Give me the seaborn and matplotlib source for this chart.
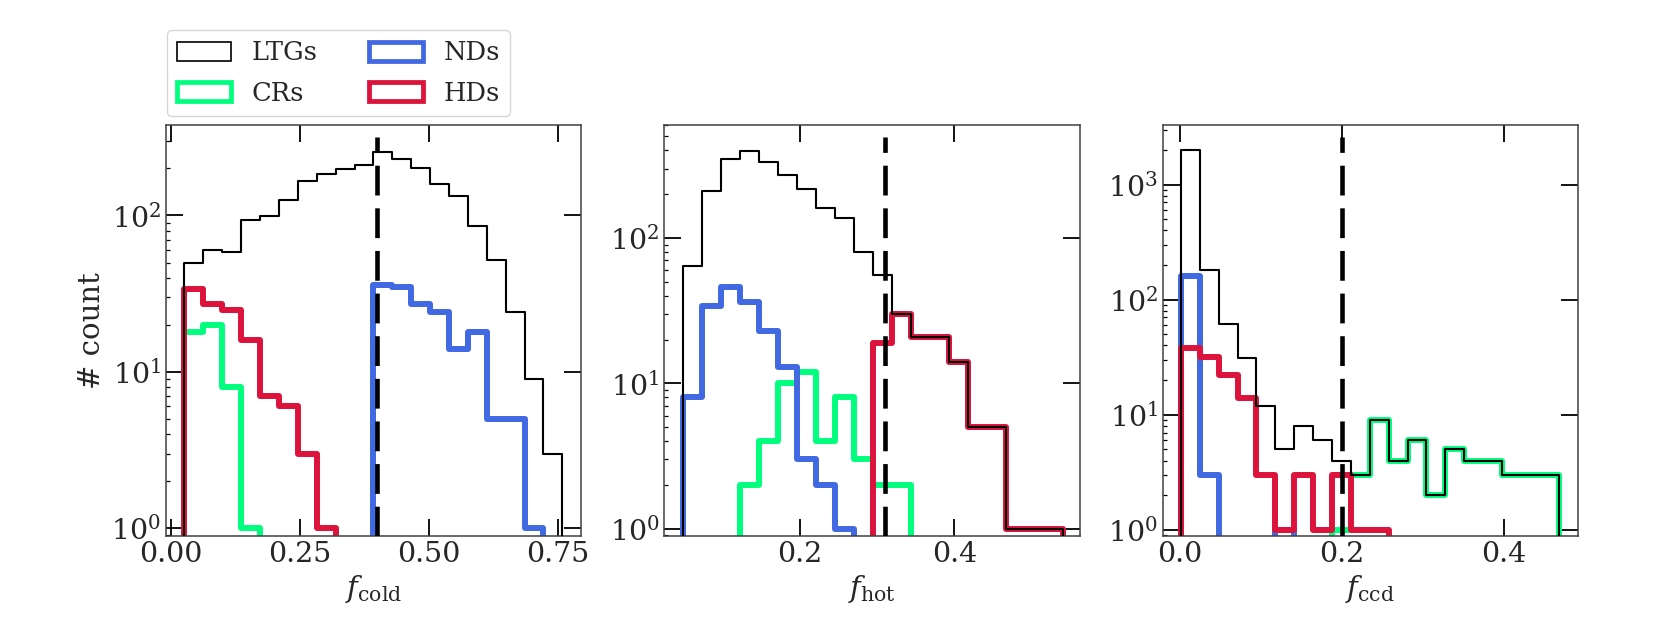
import numpy as np
import pandas as pd
import matplotlib.pyplot as plt
import matplotlib.ticker as mticker
from matplotlib.patches import Patch
import seaborn as sns

FIGURE_DPI = 100
N_BINS = 20

COLORS = {
    "LTGs": "black",
    "CRs": "springgreen",
    "NDs": "royalblue",
    "HDs": "crimson",
}
LABEL_ORDER = ["LTGs", "CRs", "NDs", "HDs"]

# bin range of each panel (20 equal bins)
COLD_RANGE = (0.026, 0.759)
HOT_RANGE = (0.049, 0.541)
CCD_RANGE = (0.001, 0.468)

# counts per bin
COLD_LTG = [50, 60, 58, 94, 99, 126, 165, 185, 197, 211, 256, 230, 202, 158, 134, 86, 52, 24, 9, 3]
COLD_CR = [18, 20, 8, 1, 0, 0, 0, 0, 0, 0, 0, 0, 0, 0, 0, 0, 0, 0, 0, 0]
COLD_ND = [0, 0, 0, 0, 0, 0, 0, 0, 0, 0, 36, 35, 27, 24, 14, 18, 5, 5, 1, 0]
COLD_HD = [34, 27, 25, 16, 7, 6, 3, 1, 0, 0, 0, 0, 0, 0, 0, 0, 0, 0, 0, 0]

HOT_LTG = [64, 209, 350, 395, 332, 269, 216, 160, 138, 80, 56, 30, 21, 21, 14, 5, 5, 1, 1, 1]
HOT_CR = [0, 0, 0, 2, 4, 10, 12, 4, 8, 3, 2, 2, 0, 0, 0, 0, 0, 0, 0, 0]
HOT_ND = [8, 34, 46, 36, 23, 13, 3, 2, 1, 0, 0, 0, 0, 0, 0, 0, 0, 0, 0, 0]
HOT_HD = [0, 0, 0, 0, 0, 0, 0, 0, 0, 0, 19, 30, 21, 21, 14, 5, 5, 1, 1, 1]

CCD_LTG = [2000, 180, 62, 31, 12, 5, 8, 6, 4, 3, 9, 4, 6, 2, 5, 4, 4, 3, 3, 3]
CCD_CR = [0, 0, 0, 0, 0, 0, 0, 0, 1, 3, 9, 4, 6, 2, 5, 4, 4, 3, 3, 3]
CCD_ND = [160, 3, 0, 0, 0, 1, 0, 0, 0, 0, 0, 0, 0, 0, 0, 0, 0, 0, 0, 0]
CCD_HD = [38, 32, 22, 14, 3, 1, 3, 1, 3, 1, 1, 0, 0, 0, 0, 0, 0, 0, 0, 0]

PANELS = [
    {
        "xlabel": r"$f_{\rm cold}$", "range": COLD_RANGE, "cut": 0.40,
        "counts": {"LTGs": COLD_LTG, "CRs": COLD_CR, "NDs": COLD_ND, "HDs": COLD_HD},
        "xlim": (-0.0097, 0.796), "ylim": (0.894, 381), "xstep": 0.25,
    },
    {
        "xlabel": r"$f_{\rm hot}$", "range": HOT_RANGE, "cut": 0.31,
        "counts": {"LTGs": HOT_LTG, "CRs": HOT_CR, "NDs": HOT_ND, "HDs": HOT_HD},
        "xlim": (0.025, 0.562), "ylim": (0.895, 602), "xstep": 0.2,
    },
    {
        "xlabel": r"$f_{\rm ccd}$", "range": CCD_RANGE, "cut": 0.20,
        "counts": {"LTGs": CCD_LTG, "CRs": CCD_CR, "NDs": CCD_ND, "HDs": CCD_HD},
        "xlim": (-0.0214, 0.4918), "ylim": (0.887, 3320), "xstep": 0.2,
    },
]

LINE_WIDTHS = {"LTGs": 1.5, "CRs": 4.3, "NDs": 4.3, "HDs": 4.3}


def padded_bins(lo, hi, counts):
    # one empty bin on each side so the step outline drops to the baseline
    edges = np.linspace(lo, hi, N_BINS + 1)
    width = edges[1] - edges[0]
    edges = np.concatenate([[lo - width], edges, [hi + width]])
    df = pd.DataFrame({
        "center": 0.5 * (edges[:-1] + edges[1:]),
        "count": np.concatenate([[0], counts, [0]]).astype(float),
    })
    return [float(e) for e in edges], df


def draw_panel(ax, panel):
    lo, hi = panel["range"]
    # colored populations first, LTGs on top
    for name in ["CRs", "NDs", "HDs", "LTGs"]:
        edges, df = padded_bins(lo, hi, panel["counts"][name])
        sns.histplot(data=df, x="center", weights="count", bins=edges, element="step",
                     fill=False, color=COLORS[name], linewidth=LINE_WIDTHS[name],
                     ax=ax, zorder=3 if name == "LTGs" else 2)
    ax.axvline(panel["cut"], ymin=0, ymax=0.97, color="black", lw=3.3,
               linestyle=(0, (6.5, 2.8)), zorder=4)
    ax.set_yscale("log")
    ax.set_xlim(*panel["xlim"])
    ax.set_ylim(*panel["ylim"])
    ax.xaxis.set_major_locator(mticker.MultipleLocator(panel["xstep"]))
    ax.set_xlabel(panel["xlabel"], fontsize=21)
    ax.set_ylabel("")
    ax.tick_params(which="major", direction="in", top=True, right=True,
                   length=12, width=1.3, color="black", labelsize=20.5)
    ax.tick_params(which="minor", direction="in", top=False, right=False,
                   length=3, width=0.9, color="black")
    for spine in ax.spines.values():
        spine.set_visible(True)
        spine.set_linewidth(1.1)
        spine.set_color("0.25")


def main():
    sns.set_theme(style="ticks")
    plt.rcParams["font.family"] = ["DejaVu Serif"]
    plt.rcParams["mathtext.fontset"] = "dejavuserif"

    fig, axes = plt.subplots(1, 3, figsize=(16.61, 6.23), dpi=FIGURE_DPI)
    fig.subplots_adjust(left=0.1, right=0.95, top=0.8, bottom=0.14, wspace=0.2)

    for ax, panel in zip(axes, PANELS):
        draw_panel(ax, panel)
    axes[0].set_ylabel("# count", fontsize=21)

    handles = [Patch(facecolor="none", edgecolor=COLORS[n], linewidth=LINE_WIDTHS[n] * 0.8)
               for n in LABEL_ORDER]
    fig.legend(handles, LABEL_ORDER, ncol=2, loc="upper left",
               bbox_to_anchor=(0.1004, 0.9518), borderaxespad=0, frameon=True,
               fontsize=18.5, handlelength=2.1, handleheight=0.75, labelspacing=0.6)

    fig.savefig("out.png", dpi=FIGURE_DPI)
    plt.close(fig)


if __name__ == "__main__":
    main()
